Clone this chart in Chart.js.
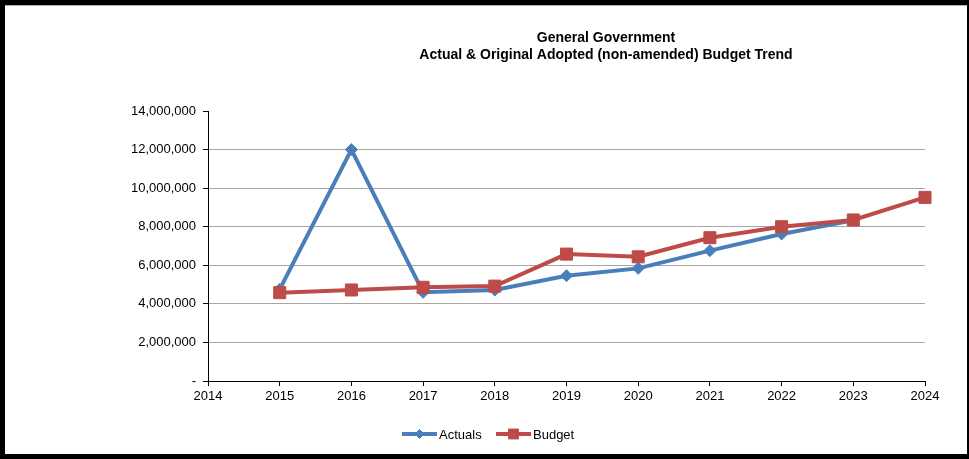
<html>
  <head>
    <title>General Government Budget Trend</title>
    <style>
      body {
        margin: 0;
        background: #fff;
        font-family: "Liberation Sans", Arial, sans-serif;
      }
      #trendChart {
        display: block;
      }
    </style>
  </head>
  <body>
    <canvas id="trendChart" width="969" height="459"></canvas>
    <script src="https://cdn.jsdelivr.net/npm/chart.js@4/dist/chart.umd.min.js"></script>
    <script>
      const years = [2015, 2016, 2017, 2018, 2019, 2020, 2021, 2022, 2023, 2024];
      const actuals = [4750000, 12000000, 4600000, 4720000, 5460000, 5840000, 6760000, 7620000, 8330000, null];
      const budget = [4580000, 4720000, 4860000, 4920000, 6580000, 6440000, 7430000, 8000000, 8350000, 9520000];
      const titleLines = ['General Government', 'Actual & Original Adopted (non-amended) Budget Trend'];

      const FONT = '"Liberation Sans", Arial, sans-serif';
      const blue = '#4a7ebb';
      const red = '#be4b48';

      const toPoints = vals => years.map((yr, i) => ({ x: yr, y: vals[i] }));

      // frame, two-line heading and the line+marker legend
      const decorations = {
        id: 'decorations',
        beforeDraw(chart) {
          const ctx = chart.ctx;
          ctx.save();
          ctx.fillStyle = '#fff';
          ctx.fillRect(0, 0, chart.width, chart.height);
          ctx.restore();
        },
        afterDraw(chart) {
          const ctx = chart.ctx;
          const w = chart.width, h = chart.height;
          ctx.save();
          ctx.fillStyle = '#000';
          ctx.fillRect(0, 0, w, 5);
          ctx.fillRect(0, 0, 5, h);
          ctx.fillRect(w - 2, 0, 2, h);
          ctx.fillRect(0, h - 5, w, 5);
          ctx.fillStyle = '#b0b0b0';
          ctx.fillRect(5, 5, w - 7, 1);

          ctx.fillStyle = '#000';
          ctx.font = 'bold 14px ' + FONT;
          ctx.textAlign = 'center';
          ctx.textBaseline = 'middle';
          ctx.fillText(titleLines[0], 606, 38);
          ctx.fillText(titleLines[1], 606, 55);

          const items = [
            { label: 'Actuals', color: blue, style: 'rectRot', r: 4.5, x: 402 },
            { label: 'Budget', color: red, style: 'rect', r: 7, x: 496 }
          ];
          const ly = 434;
          ctx.font = '13px ' + FONT;
          ctx.textAlign = 'left';
          items.forEach(it => {
            ctx.strokeStyle = it.color;
            ctx.lineWidth = 4;
            ctx.beginPath();
            ctx.moveTo(it.x, ly);
            ctx.lineTo(it.x + 35, ly);
            ctx.stroke();
            ctx.fillStyle = it.color;
            ctx.lineWidth = 1;
            Chart.helpers.drawPoint(ctx, { pointStyle: it.style, radius: it.r, borderWidth: 1 }, it.x + 17.5, ly);
            ctx.fillStyle = '#000';
            ctx.fillText(it.label, it.x + 37, ly + 1);
          });
          ctx.restore();
        }
      };

      new Chart(document.getElementById('trendChart'), {
        type: 'line',
        data: {
          datasets: [
            {
              label: 'Actuals',
              data: toPoints(actuals),
              borderColor: blue,
              backgroundColor: blue,
              borderWidth: 4,
              pointStyle: 'rectRot',
              pointRadius: 6,
              pointBorderWidth: 1,
              tension: 0,
              clip: false,
              order: 2
            },
            {
              label: 'Budget',
              data: toPoints(budget),
              borderColor: red,
              backgroundColor: red,
              borderWidth: 4,
              pointStyle: 'rect',
              pointRadius: 8.5,
              pointBorderWidth: 1,
              tension: 0,
              clip: false,
              order: 1
            }
          ]
        },
        options: {
          responsive: false,
          animation: false,
          devicePixelRatio: 1,
          layout: { padding: { top: 111, left: 0, right: 44, bottom: 48 } },
          plugins: {
            legend: { display: false },
            title: { display: false },
            tooltip: { enabled: false }
          },
          scales: {
            x: {
              type: 'linear',
              min: 2014,
              max: 2024,
              afterFit: s => { s.height = 30; },
              ticks: {
                stepSize: 1,
                color: '#000',
                padding: 3,
                font: { family: FONT, size: 13 },
                callback: v => String(v)
              },
              grid: { drawOnChartArea: false, tickLength: 5, tickColor: '#000' },
              border: { color: '#000', width: 1 }
            },
            y: {
              min: 0,
              max: 14000000,
              afterFit: s => { s.width = 208; },
              ticks: {
                stepSize: 2000000,
                color: '#000',
                padding: 7,
                font: { family: FONT, size: 13 },
                callback: v => v === 0 ? '-' : v.toLocaleString('en-US')
              },
              grid: {
                color: c => (c.tick && c.tick.value === 14000000) ? 'rgba(0,0,0,0)' : '#a6a6a6',
                tickLength: 5,
                tickColor: '#000'
              },
              border: { color: '#000', width: 1 }
            }
          }
        },
        plugins: [decorations]
      });
    </script>
  </body>
</html>
